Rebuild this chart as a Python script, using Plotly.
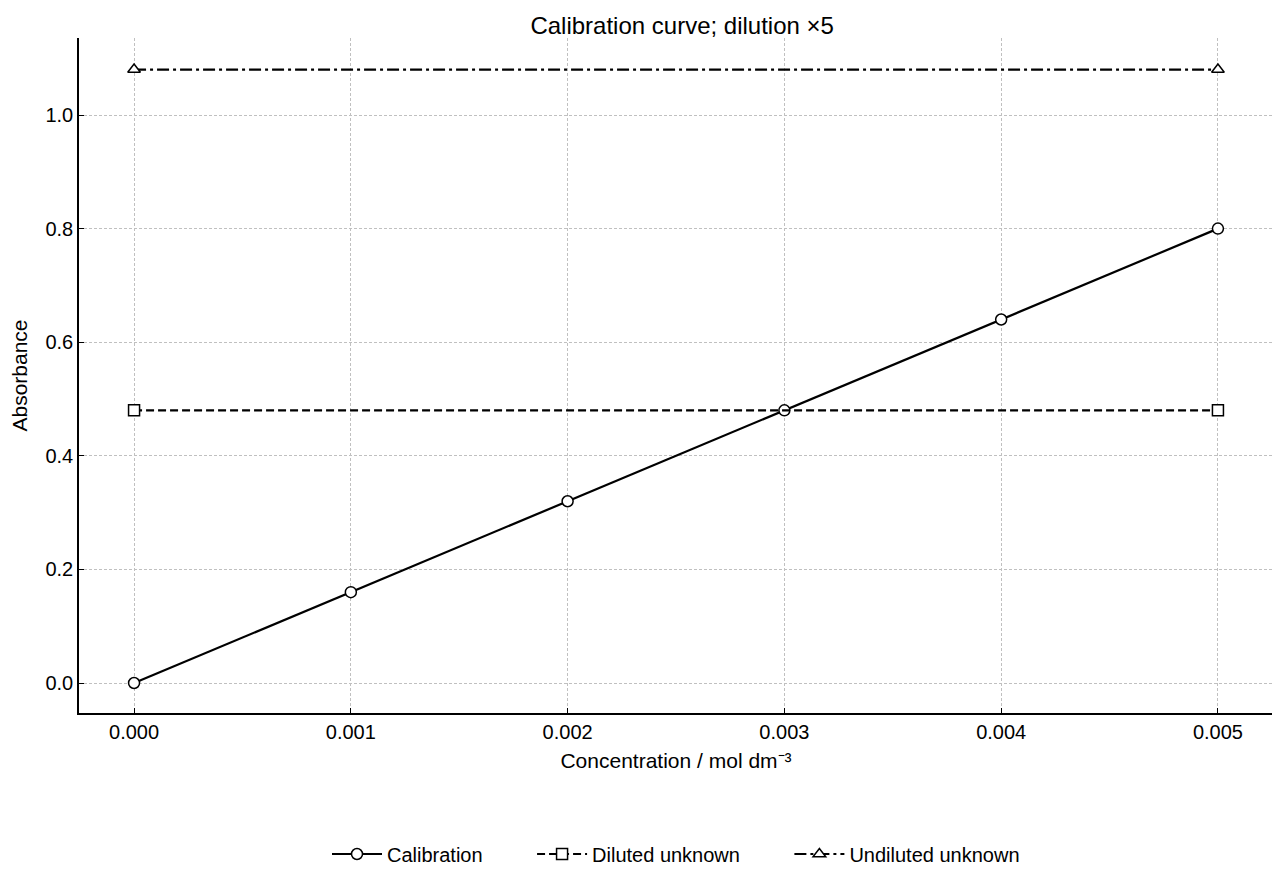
import plotly.graph_objects as go

conc = [0.0, 0.001, 0.002, 0.003, 0.004, 0.005]
absorb = [0.0, 0.16, 0.32, 0.48, 0.64, 0.80]
dil_x = [0.0, 0.005]
dil_y = [0.48, 0.48]
und_x = [0.0, 0.005]
und_y = [1.08, 1.08]

pad = "\u00a0" * 8
mk = dict(color="white", size=11, line=dict(color="black", width=1.5))
fig = go.Figure()
fig.add_trace(go.Scatter(x=conc, y=absorb, mode="lines+markers", name="Calibration" + pad,
                         line=dict(color="black", width=2.2), marker=dict(symbol="circle", **mk)))
fig.add_trace(go.Scatter(x=dil_x, y=dil_y, mode="lines+markers", name="Diluted unknown" + pad,
                         line=dict(color="black", width=2.2, dash="8px,4px"), marker=dict(symbol="square", **mk)))
fig.add_trace(go.Scatter(x=und_x, y=und_y, mode="lines+markers", name="Undiluted unknown",
                         line=dict(color="black", width=2.2, dash="12px,4px,3px,4px"),
                         marker=dict(symbol="triangle-up", **mk)))

ax = dict(showline=True, linecolor="black", linewidth=1.5, ticks="inside", ticklen=5,
          tickcolor="black", showgrid=True, gridcolor="#c0c0c0", griddash="3px,2px", gridwidth=1,
          zeroline=False, mirror=False, tickfont=dict(size=20, color="black"))
fig.update_layout(
    width=1272, height=872, plot_bgcolor="white", paper_bgcolor="white",
    font=dict(family="Liberation Sans, Arial, sans-serif", color="black", size=20),
    title=dict(text="Calibration curve; dilution ×5", x=0.53, xanchor="center", y=0.99, yanchor="top",
               font=dict(size=24)),
    margin=dict(l=71, r=7, t=30, b=159),
    xaxis=dict(**ax, range=[-0.000254, 0.005254], tickvals=conc,
               ticktext=["0.000", "0.001", "0.002", "0.003", "0.004", "0.005"],
               title=dict(text="Concentration / mol dm⁻³", font=dict(size=21), standoff=12)),
    yaxis=dict(**ax, range=[-0.0528, 1.1356], tickvals=[0, 0.2, 0.4, 0.6, 0.8, 1.0],
               ticktext=["0.0", "0.2", "0.4", "0.6", "0.8", "1.0"],
               title=dict(text="Absorbance", font=dict(size=21), standoff=14)),
    legend=dict(orientation="h", x=0.5, xanchor="center", y=-0.18, yanchor="top",
                font=dict(size=20), itemwidth=50),
    showlegend=True,
)
fig.write_html("out.html")
